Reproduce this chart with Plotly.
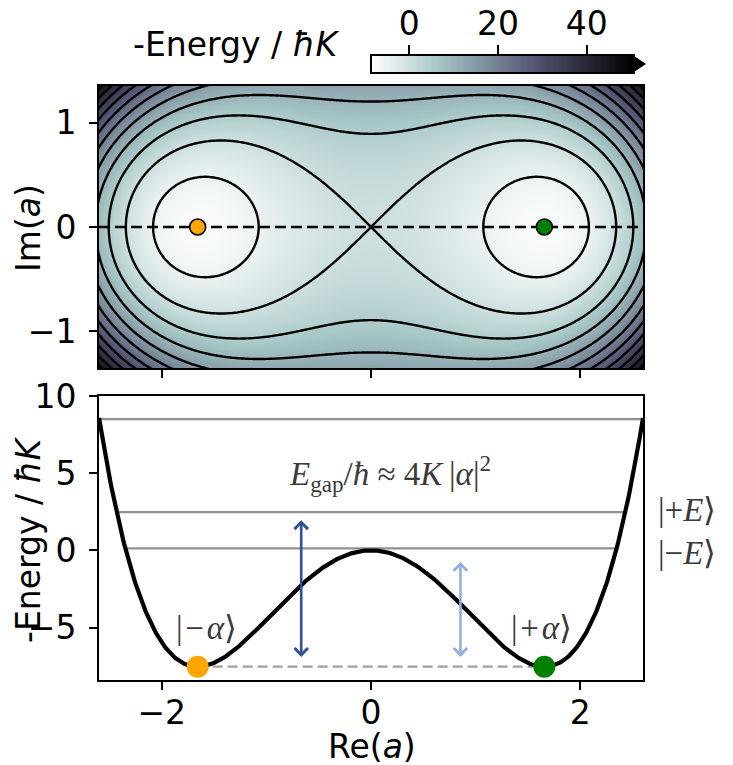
import numpy as np
import plotly.graph_objects as go

# ---- model parameters and chart values ---------------------------------
alpha = 1.657                      # coherent-state amplitude of the two wells
re_lim = [-2.6, 2.6]
im_lim = [-1.35, 1.35]
energy_lim = [-8.4, 10.0]
cbar_lim = [-8.4, 50.4]
contour_start, contour_end, contour_step = -5, 45, 5
cbar_ticks = [0, 20, 40]

level_energies = [0.13, 2.48, 8.5]          # horizontal level lines
level_labels = ["|−<i>E</i>⟩", "|+<i>E</i>⟩"]
level_label_y = [-0.2, 2.6]

arrow_x = [-0.667, 0.855]
arrow_bottom = [-7.0, -7.0]
arrow_top = [1.95, -0.75]
arrow_colors = ["#2d5396", "#93afe0"]

state_labels = ["|\u200a−\u200a<i>α</i>⟩", "|\u200a+\u200a<i>α</i>⟩"]
state_label_x = [-1.575, 1.63]
state_label_y = [-5.0, -5.0]
state_colors = ["#ffa500", "#008000"]
state_x = [-alpha, alpha]

gap_label = ("<i>E</i><sub>gap</sub>/<i>ħ</i> ≈ 4<i>K</i>\u2009"
             "|<i>α</i>|<sup>2</sup>")
gap_label_xy = [0.18, 5.0]

# bone_r colour map
bone_r = [
    [0.0, "rgb(255,255,255)"],
    [0.254, "rgb(166,198,198)"],
    [0.635, "rgb(81,81,113)"],
    [1.0, "rgb(0,0,0)"],
]


def energy(x, y):
    """Classical Kerr-cat energy (in units of hbar K) at a = x + i y."""
    r2 = x ** 2 + y ** 2
    return r2 ** 2 - 2 * alpha ** 2 * (x ** 2 - y ** 2)


# ---- layout helpers (pixel -> paper) -----------------------------------
W, H = 733, 765


def px(x):
    return x / W


def py(y):
    return 1 - y / H


SANS = "DejaVu Sans"
SERIF = "Liberation Serif"
FS = 33
SERIF_FS = 33
TEXT_GREY = "#3a3a3a"

# ---- phase-space grid ---------------------------------------------------
re_grid = np.linspace(re_lim[0] - 0.02, re_lim[1] + 0.02, 301)
im_grid = np.linspace(im_lim[0] - 0.02, im_lim[1] + 0.02, 161)
XX, YY = np.meshgrid(re_grid, im_grid)
ZZ = energy(XX, YY)

fig = go.Figure()

fig.add_trace(go.Heatmap(
    x=re_grid, y=im_grid, z=ZZ, colorscale=bone_r,
    zmin=cbar_lim[0], zmax=cbar_lim[1], zsmooth="best",
    showscale=False, hoverinfo="skip", xaxis="x", yaxis="y"))

fig.add_trace(go.Contour(
    x=re_grid, y=im_grid, z=ZZ, showscale=False, hoverinfo="skip",
    contours=dict(start=contour_start, end=contour_end, size=contour_step,
                  coloring="none"),
    line=dict(color="black", width=2.4), xaxis="x", yaxis="y"))

fig.add_trace(go.Scatter(
    x=re_lim, y=[0, 0], mode="lines",
    line=dict(color="black", width=2.3, dash="11px,5px"),
    hoverinfo="skip", showlegend=False, xaxis="x", yaxis="y"))

fig.add_trace(go.Scatter(
    x=state_x, y=[0, 0], mode="markers",
    marker=dict(color=state_colors, size=16, line=dict(color="black", width=1.6)),
    hoverinfo="skip", showlegend=False, xaxis="x", yaxis="y"))

# ---- energy cut along Im(a) = 0 ----------------------------------------
re_line = np.linspace(re_lim[0], re_lim[1], 521)
e_line = energy(re_line, 0 * re_line)
e_min = energy(alpha, 0.0)

for lev in level_energies:
    x_edge = np.sqrt(alpha ** 2 + np.sqrt(alpha ** 4 + lev))
    fig.add_trace(go.Scatter(
        x=[-x_edge, x_edge], y=[lev, lev], mode="lines",
        line=dict(color="#919191", width=2.2),
        hoverinfo="skip", showlegend=False, xaxis="x2", yaxis="y2"))

fig.add_trace(go.Scatter(
    x=[-alpha, alpha], y=[e_min, e_min], mode="lines",
    line=dict(color="#a0a0a0", width=2.2, dash="10px,5px"),
    hoverinfo="skip", showlegend=False, xaxis="x2", yaxis="y2"))

fig.add_trace(go.Scatter(
    x=re_line, y=e_line, mode="lines",
    line=dict(color="black", width=4.2),
    hoverinfo="skip", showlegend=False, xaxis="x2", yaxis="y2"))

fig.add_trace(go.Scatter(
    x=state_x, y=[e_min, e_min], mode="markers",
    marker=dict(color=state_colors, size=22, line=dict(width=0)),
    hoverinfo="skip", showlegend=False, xaxis="x2", yaxis="y2"))

# ---- colour bar drawn as its own small axis -----------------------------
cb_vals = np.linspace(cbar_lim[0], cbar_lim[1], 300)
fig.add_trace(go.Heatmap(
    x=cb_vals, y=[0, 1], z=[cb_vals, cb_vals], colorscale=bone_r,
    zmin=cbar_lim[0], zmax=cbar_lim[1], zsmooth="best",
    showscale=False, hoverinfo="skip", xaxis="x3", yaxis="y3"))

# ---- axes ---------------------------------------------------------------
frame = dict(showline=True, mirror=True, linecolor="black", linewidth=2,
             ticks="outside", ticklen=8, tickwidth=2, tickcolor="black",
             showgrid=False, zeroline=False, automargin=False,
             tickfont=dict(family=SANS, size=FS, color="black"))

x_dom = [px(99), px(643)]
fig.update_layout(
    template="none",
    width=W, height=H,
    margin=dict(l=0, r=0, t=0, b=0, pad=0),
    paper_bgcolor="white", plot_bgcolor="white",
    showlegend=False,
    font=dict(family=SANS, color="black"),
    xaxis=dict(domain=x_dom, range=re_lim, tickvals=[-2, 0, 2],
               showticklabels=False, anchor="y", **frame),
    yaxis=dict(domain=[py(368), py(86)], range=im_lim, tickvals=[-1, 0, 1],
               anchor="x", ticklabelstandoff=6, **frame),
    xaxis2=dict(domain=x_dom, range=re_lim, tickvals=[-2, 0, 2],
                anchor="y2", ticklabelstandoff=-6, **frame),
    yaxis2=dict(domain=[py(680), py(396)], range=energy_lim,
                tickvals=[-5, 0, 5, 10], anchor="x2", ticklabelstandoff=6,
                **frame),
    xaxis3=dict(domain=[px(372), px(633)], range=cbar_lim, side="top",
                tickvals=cbar_ticks, anchor="y3", showline=True, mirror=True,
                linecolor="black", linewidth=1.6, ticks="outside", ticklen=9,
                tickwidth=2, tickcolor="black", showgrid=False, zeroline=False,
                ticklabelstandoff=-3, automargin=False,
                tickfont=dict(family=SANS, size=FS, color="black")),
    yaxis3=dict(domain=[py(72), py(56)], range=[0, 1], anchor="x3",
                showticklabels=False, ticks="", showline=True, mirror=True,
                linecolor="black", linewidth=1.6, showgrid=False,
                zeroline=False, automargin=False),
)

# extension triangle of the colour bar
tri = "M {a},{b} L {c},{d} L {a},{e} Z".format(
    a=px(633), b=py(56), c=px(645), d=py(64), e=py(72))
fig.add_shape(type="path", path=tri, xref="paper", yref="paper",
              fillcolor="black", line=dict(color="black", width=1.2))

# ---- arrows and text ----------------------------------------------------
ann = []
for xa, y0, y1, col in zip(arrow_x, arrow_bottom, arrow_top, arrow_colors):
    ann.append(dict(x=xa, y=y1, ax=xa, ay=y0, xref="x2", yref="y2",
                    axref="x2", ayref="y2", text="", showarrow=True,
                    arrowhead=4, startarrowhead=4, arrowside="end+start",
                    arrowsize=1, startarrowsize=1, arrowwidth=2.6,
                    arrowcolor=col, standoff=0, startstandoff=0))

centred = dict(xanchor="center", yanchor="middle", showarrow=False)

ann.append(dict(x=gap_label_xy[0], y=gap_label_xy[1], xref="x2", yref="y2",
                text=gap_label,
                font=dict(family=SERIF, size=SERIF_FS, color=TEXT_GREY),
                **centred))

for txt, lx, ly in zip(state_labels, state_label_x, state_label_y):
    ann.append(dict(x=lx, y=ly, xref="x2", yref="y2", text=txt,
                    font=dict(family=SERIF, size=SERIF_FS, color=TEXT_GREY),
                    **centred))

for txt, ly in zip(level_labels, level_label_y):
    ann.append(dict(x=px(656), y=ly, xref="paper", yref="y2", text=txt,
                    xanchor="left", yanchor="middle", showarrow=False,
                    font=dict(family=SERIF, size=SERIF_FS, color=TEXT_GREY)))

ann.append(dict(x=px(236), y=py(44), xref="paper", yref="paper",
                text="-Energy / <i>ħK</i>",
                font=dict(family=SANS, size=FS, color="black"), **centred))
ann.append(dict(x=px(28), y=py(228), xref="paper", yref="paper",
                text="Im(<i>a</i>)", textangle=-90,
                font=dict(family=SANS, size=FS, color="black"), **centred))
ann.append(dict(x=px(28), y=py(540), xref="paper", yref="paper",
                text="-Energy / <i>ħK</i>", textangle=-90,
                font=dict(family=SANS, size=FS, color="black"), **centred))
ann.append(dict(x=px(372), y=py(746), xref="paper", yref="paper",
                text="Re(<i>a</i>)",
                font=dict(family=SANS, size=FS, color="black"), **centred))

fig.update_layout(annotations=ann)

fig.write_html("out.html")
